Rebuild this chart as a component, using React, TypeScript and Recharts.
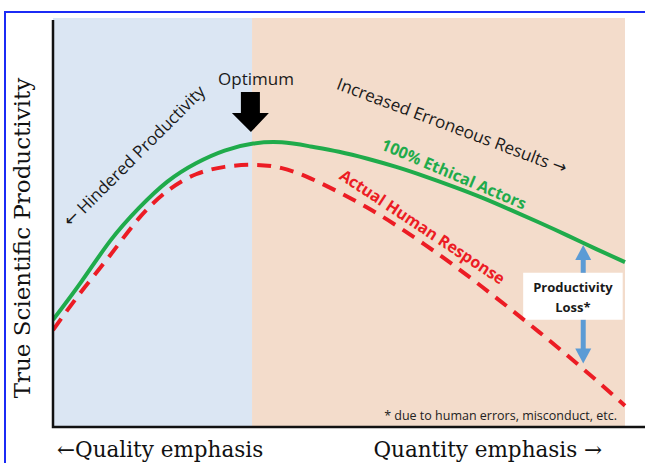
import React from 'react';
import {
  ComposedChart,
  Line,
  XAxis,
  YAxis,
  ReferenceArea,
  ReferenceDot,
  ReferenceLine
} from 'recharts';

// emphasis scale, 0 = all quality, 100 = all quantity
const emphasis = [0, 5, 10, 15, 20, 25, 30, 35, 40, 45, 50, 55, 60, 65, 70, 75, 80, 85, 90, 95, 100];
const ethicalActors = [26.2, 35.6, 45.5, 53.5, 60, 64.5, 67.6, 69.3, 69.6, 68.6, 67.3, 65.6, 63.6, 61.3, 58.8, 56.1, 53.1, 50.0, 46.8, 43.5, 40.3];
const humanResponse = [23.7, 33.2, 42, 51, 57.7, 61.8, 63.6, 64.1, 63.3, 60.8, 57.4, 53.6, 49.3, 44.6, 39.6, 34.3, 28.8, 23.2, 17.4, 11.4, 5.2];

const zones = ['Quality', 'Quantity'];
const zoneEdges = [0, 34.8, 100];
const lossAt = 92.7;

const data = emphasis.map((x, i) => ({
  x,
  ethical: ethicalActors[i],
  actual: humanResponse[i]
}));

const W = 645;
const H = 463;
const MARGIN = { top: 18, right: 0, bottom: 36, left: 53 };
const PLOT_W = W - MARGIN.left - MARGIN.right;
const PLOT_H = H - MARGIN.top - MARGIN.bottom;

const SANS = '"Open Sans", "Noto Sans", sans-serif';
const SERIF = '"DejaVu Serif", "Liberation Serif", serif';
const ARROW_FONT = '"DejaVu Sans", sans-serif';

type TextOpts = {
  angle?: number;
  size?: number;
  weight?: number | string;
  fill?: string;
  anchor?: 'start' | 'middle' | 'end';
  family?: string;
};

// arrows in the sans labels come out tiny in Open Sans, so give them their own font
const withArrows = (value: string, family: string) =>
  value.split(/([←→])/).map((part, i) =>
    part === '←' || part === '→' ? (
      <tspan key={i} fontFamily={family === SANS ? ARROW_FONT : family}>
        {part}
      </tspan>
    ) : (
      <tspan key={i}>{part}</tspan>
    )
  );

const textShape = (value: string, o: TextOpts = {}) => (props: any) => {
  const { cx, cy } = props;
  const family = o.family || SANS;
  return (
    <text
      x={cx}
      y={cy}
      transform={o.angle ? `rotate(${o.angle} ${cx} ${cy})` : undefined}
      textAnchor={o.anchor || 'middle'}
      dominantBaseline="central"
      fontFamily={family}
      fontSize={o.size || 15}
      fontWeight={o.weight || 400}
      fill={o.fill || '#1a1a1a'}
    >
      {withArrows(value, family)}
    </text>
  );
};

// L-shaped axis frame drawn from the origin
const axesShape = (props: any) => {
  const { cx, cy } = props;
  return (
    <path
      d={`M${cx},${cy - PLOT_H + 2} V${cy} H${cx + PLOT_W}`}
      fill="none"
      stroke="#111"
      strokeWidth={2.5}
    />
  );
};

const downArrow = (props: any) => {
  const { cx, cy } = props;
  const pts = [
    [cx - 10, cy - 40],
    [cx + 9, cy - 40],
    [cx + 9, cy - 19],
    [cx + 18, cy - 19],
    [cx, cy],
    [cx - 19, cy - 19],
    [cx - 10, cy - 19]
  ]
    .map((p) => p.join(','))
    .join(' ');
  return <polygon points={pts} fill="#000" />;
};

const head = (dir: 1 | -1) => (props: any) => {
  const { cx, cy } = props;
  const pts = `${cx},${cy} ${cx - 8},${cy + dir * 15} ${cx + 8},${cy + dir * 15}`;
  return <polygon points={pts} fill="#5b9bd5" />;
};

export default function App() {
  return (
    <div style={{ position: 'relative', width: W, height: H, overflow: 'hidden', background: '#fff' }}>
      <style>{'body{margin:0;overflow:hidden}'}</style>
      <div
        style={{
          position: 'absolute',
          left: 4,
          top: 11,
          right: 0,
          bottom: 0,
          borderTop: '2px solid #1b2bf5',
          borderLeft: '2px solid #1b2bf5'
        }}
      />
      <div style={{ position: 'absolute', left: 0, top: 0 }}>
        <ComposedChart width={W} height={H} data={data} margin={MARGIN}>
          <XAxis
            dataKey="x"
            type="number"
            domain={[0, 103.5]}
            allowDataOverflow
            tick={false}
            tickLine={false}
            height={0}
            axisLine={false}
          />
          <YAxis
            type="number"
            domain={[0, 100]}
            allowDataOverflow
            tick={false}
            tickLine={false}
            width={0}
            axisLine={false}
          />
          {zones.map((z, i) => (
            <ReferenceArea
              key={z}
              x1={zoneEdges[i]}
              x2={zoneEdges[i + 1]}
              y1={0}
              y2={100}
              fill={i === 0 ? '#dbe6f3' : '#f3dccb'}
              fillOpacity={1}
              stroke="none"
            />
          ))}

          {/* productivity loss arrow, broken by the label box */}
          <ReferenceLine segment={[{ x: lossAt, y: 41.5 }, { x: lossAt, y: 37.7 }]} stroke="#5b9bd5" strokeWidth={5} />
          <ReferenceLine segment={[{ x: lossAt, y: 26.2 }, { x: lossAt, y: 18.5 }]} stroke="#5b9bd5" strokeWidth={5} />
          <ReferenceDot x={lossAt} y={44.5} r={0} shape={head(1)} />
          <ReferenceDot x={lossAt} y={15.5} r={0} shape={head(-1)} />
          <ReferenceArea x1={82.2} x2={99.6} y1={26.2} y2={37.7} fill="#fff" fillOpacity={1} stroke="none" />
          <ReferenceDot x={90.9} y={34.2} r={0} shape={textShape('Productivity', { size: 13, weight: 700 })} />
          <ReferenceDot x={90.9} y={29.3} r={0} shape={textShape('Loss*', { size: 13, weight: 700 })} />

          <Line
            type="natural"
            dataKey="ethical"
            stroke="#1fab4b"
            strokeWidth={4}
            dot={false}
            isAnimationActive={false}
          />
          <Line
            type="natural"
            dataKey="actual"
            stroke="#ec1c24"
            strokeWidth={4}
            strokeDasharray="14 9"
            dot={false}
            isAnimationActive={false}
          />

          <ReferenceDot x={0} y={0} r={0} ifOverflow="visible" shape={axesShape} />

          <ReferenceDot x={35.5} y={85.3} r={0} shape={textShape('Optimum', { size: 17 })} />
          <ReferenceDot x={34.6} y={72.1} r={0} shape={downArrow} />
          <ReferenceDot x={14.1} y={66.4} r={0} shape={textShape('← Hindered Productivity', { size: 17, angle: -45 })} />
          <ReferenceDot x={69.8} y={73.8} r={0} shape={textShape('Increased Erroneous Results →', { size: 17, angle: 20.6 })} />
          <ReferenceDot
            x={70.1}
            y={61.9}
            r={0}
            shape={textShape('100% Ethical Actors', { size: 16, angle: 23, weight: 700, fill: '#1fab4b' })}
          />
          <ReferenceDot
            x={64.6}
            y={49.0}
            r={0}
            shape={textShape('Actual Human Response', { size: 16, angle: 33.4, weight: 700, fill: '#ec1c24' })}
          />
          <ReferenceDot
            x={98.6}
            y={2.9}
            r={0}
            shape={textShape('* due to human errors, misconduct, etc.', { size: 12.5, anchor: 'end', fill: '#222' })}
          />

          <ReferenceDot
            x={-5.5}
            y={46.2}
            r={0}
            ifOverflow="visible"
            shape={textShape('True Scientific Productivity', { size: 23, angle: -90, family: SERIF, fill: '#111' })}
          />
          <ReferenceDot
            x={0.7}
            y={-5.4}
            r={0}
            ifOverflow="visible"
            shape={textShape('←Quality emphasis', { size: 21.5, anchor: 'start', family: SERIF, fill: '#111' })}
          />
          <ReferenceDot
            x={96}
            y={-5.4}
            r={0}
            ifOverflow="visible"
            shape={textShape('Quantity emphasis →', { size: 21.5, anchor: 'end', family: SERIF, fill: '#111' })}
          />
        </ComposedChart>
      </div>
    </div>
  );
}
